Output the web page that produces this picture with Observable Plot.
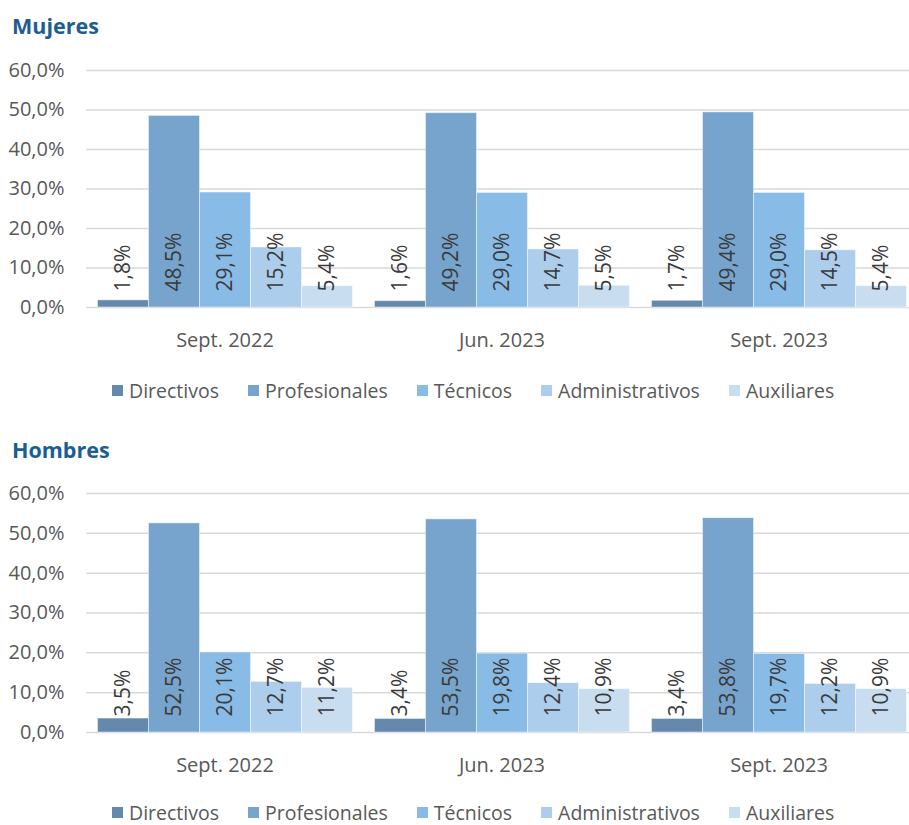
<!DOCTYPE html>
<html>
<head>
<meta charset="utf-8">
<script src="https://cdn.jsdelivr.net/npm/d3@7"></script>
<script src="https://cdn.jsdelivr.net/npm/@observablehq/plot@0.6"></script>
<style>
  html, body { margin: 0; padding: 0; background: #fff; overflow: hidden; }
  #wrap { position: relative; width: 909px; height: 825px; overflow: hidden; font-family: "Open Sans", "Noto Sans", sans-serif; }
  .title { position: absolute; left: 12px; font-weight: 700; font-size: 21.5px; color: #1b5e93; line-height: 1; }
  .legend { position: absolute; left: 112px; display: flex; gap: 29px; font-size: 19.5px; color: #595959; line-height: 1.2; align-items: center; white-space: nowrap; }
  .legend .sw { display: inline-block; width: 11px; height: 11px; margin-right: 6px; }
  .legend .it { display: flex; align-items: center; }
  svg.chart { position: absolute; left: 0; max-width: none !important; }
</style>
</head>
<body>
<div id="wrap"></div>
<script>
const groups = ["Sept. 2022", "Jun. 2023", "Sept. 2023"];
const categories = ["Directivos", "Profesionales", "Técnicos", "Administrativos", "Auxiliares"];
const mujeresValues = [
  [1.8, 48.5, 29.1, 15.2, 5.4],
  [1.6, 49.2, 29.0, 14.7, 5.5],
  [1.7, 49.4, 29.0, 14.5, 5.4]
];
const hombresValues = [
  [3.5, 52.5, 20.1, 12.7, 11.2],
  [3.4, 53.5, 19.8, 12.4, 10.9],
  [3.4, 53.8, 19.7, 12.2, 10.9]
];
const yTicks = [0, 10, 20, 30, 40, 50, 60];
const palette = ["#6589ad", "#76a4cc", "#88bbe6", "#adcdec", "#c9ddf1"];
const titles = ["Mujeres", "Hombres"];

const fmt = d => d.toFixed(1).replace(".", ",") + "%";
const FONT = '"Open Sans", "Noto Sans", sans-serif';

function rows(values) {
  const out = [];
  groups.forEach((g, i) => categories.forEach((c, j) => out.push({group: g, category: c, value: values[i][j]})));
  return out;
}

function makeChart(values, marginTop, plotH, marginBottom) {
  const data = rows(values);
  return Plot.plot({
    width: 917,
    height: marginTop + plotH + marginBottom,
    marginLeft: 85.5,
    marginRight: 0.5,
    marginTop,
    marginBottom,
    style: {fontFamily: FONT, fontSize: "20px", color: "#595959", background: "transparent", overflow: "visible", maxWidth: "none"},
    fx: {domain: groups, padding: 0, label: null, axis: "bottom", tickSize: 0, tickPadding: 25},
    x: {domain: categories, paddingInner: 0, paddingOuter: 0.185, axis: null},
    y: {domain: [0, 60], ticks: yTicks, tickFormat: d => d.toFixed(1).replace(".", ",") + "%", label: null, tickSize: 0, tickPadding: 22},
    color: {domain: categories, range: palette},
    marks: [
      Plot.ruleY(yTicks, {stroke: "#d9d9d9", strokeWidth: 1.5}),
      Plot.barY(data, {fx: "group", x: "category", y: "value", fill: "category", stroke: "#ffffff", strokeOpacity: 0.45, strokeWidth: 1}),
      Plot.text(data, {fx: "group", x: "category", y: d => 0, dy: -16, text: d => fmt(d.value), rotate: -90, textAnchor: "start", fontSize: 21, fontWeight: 500, fill: "#3a3a3a"})
    ]
  });
}

const wrap = document.getElementById("wrap");

function addTitle(text, top) {
  const t = document.createElement("div");
  t.className = "title";
  t.style.top = top + "px";
  t.textContent = text;
  wrap.appendChild(t);
}
function addLegend(top) {
  const l = document.createElement("div");
  l.className = "legend";
  l.style.top = top + "px";
  categories.forEach((c, i) => {
    const it = document.createElement("div");
    it.className = "it";
    const sw = document.createElement("span");
    sw.className = "sw";
    sw.style.background = palette[i];
    it.appendChild(sw);
    const tx = document.createElement("span");
    tx.textContent = c;
    it.appendChild(tx);
    l.appendChild(it);
  });
  wrap.appendChild(l);
}
function addChart(svg, top) {
  svg.classList.add("chart");
  svg.style.position = "absolute";
  svg.style.top = top + "px";
  svg.style.left = "0px";
  svg.style.maxWidth = "none";
  wrap.appendChild(svg);
}

addTitle(titles[0], 15);
addChart(makeChart(mujeresValues, 20, 237, 45), 50);
addLegend(379);

addTitle(titles[1], 439);
addChart(makeChart(hombresValues, 21, 239, 45), 472);
addLegend(801);
</script>
</body>
</html>
